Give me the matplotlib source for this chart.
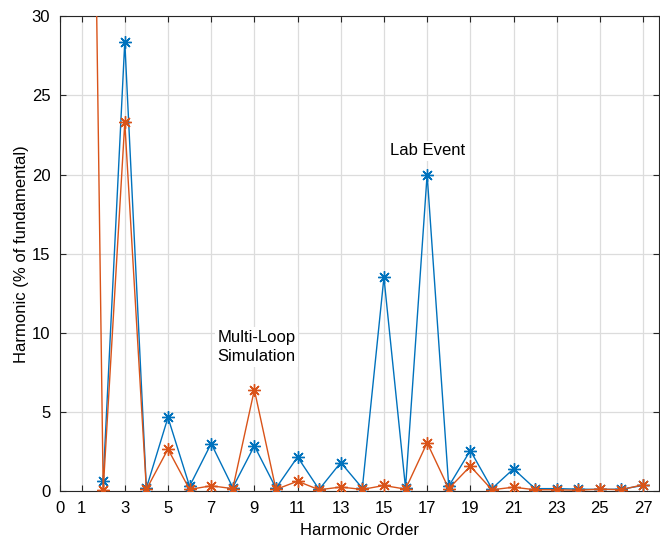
import matplotlib
matplotlib.use('Agg')
import matplotlib.pyplot as plt

# harmonic orders and magnitudes (% of fundamental)
lab_orders = list(range(2, 28))
lab_vals = [0.66, 28.4, 0.18, 4.65, 0.3, 3.0, 0.22, 2.85, 0.18, 2.15, 0.1, 1.8,
            0.18, 13.5, 0.2, 20.0, 0.3, 2.56, 0.15, 1.4, 0.15, 0.15, 0.12, 0.1,
            0.12, 0.35]

sim_orders = list(range(1, 28))
sim_vals = [100.0, 0.08, 23.3, 0.1, 2.65, 0.1, 0.33, 0.15, 6.4, 0.1, 0.62, 0.08,
            0.25, 0.1, 0.35, 0.12, 3.05, 0.15, 1.57, 0.08, 0.24, 0.08, 0.08,
            0.05, 0.12, 0.08, 0.4]

xticks = [0] + list(range(1, 28, 2))
yticks = [0, 5, 10, 15, 20, 25, 30]

blue = '#0072BD'
orange = '#D95319'
star = (8, 2, 0)  # matlab-ish asterisk

plt.rcParams['font.family'] = ['Liberation Sans', 'DejaVu Sans']

fig = plt.figure(figsize=(6.6, 5.4), dpi=100)
ax = fig.add_axes([0.0909, 0.0907, 0.908, 0.879])

ax.plot(lab_orders, lab_vals, color=blue, lw=1.0, marker=star, ms=9, mew=1.0, zorder=3)
ax.plot(sim_orders, sim_vals, color=orange, lw=1.0, marker=star, ms=9, mew=1.0, zorder=4)

ax.set_xlim(0, 27.75)
ax.set_ylim(0, 30)
ax.set_xticks(xticks)
ax.set_yticks(yticks)
ax.tick_params(direction='in', top=True, right=True, labelsize=12, length=4,
               colors='#262626')
ax.tick_params(axis='x', pad=7)
ax.tick_params(axis='y', pad=7)
for lab in ax.get_xticklabels() + ax.get_yticklabels():
    lab.set_color('black')
ax.grid(True, color='#dcdcdc', lw=0.9)
ax.set_axisbelow(True)
for s in ax.spines.values():
    s.set_color('#262626')

ax.set_xlabel('Harmonic Order', fontsize=12, labelpad=5)
ax.set_ylabel('Harmonic (% of fundamental)', fontsize=12, labelpad=2)

ax.text(17, 21.5, 'Lab Event', ha='center', va='center', fontsize=12,
        bbox=dict(facecolor='white', edgecolor='none', pad=2), zorder=5)
ax.text(9.1, 9.1, 'Multi-Loop\nSimulation', ha='center', va='center', fontsize=12,
        linespacing=1.3, bbox=dict(facecolor='white', edgecolor='none', pad=2), zorder=5)

fig.savefig('out.png', dpi=100)
